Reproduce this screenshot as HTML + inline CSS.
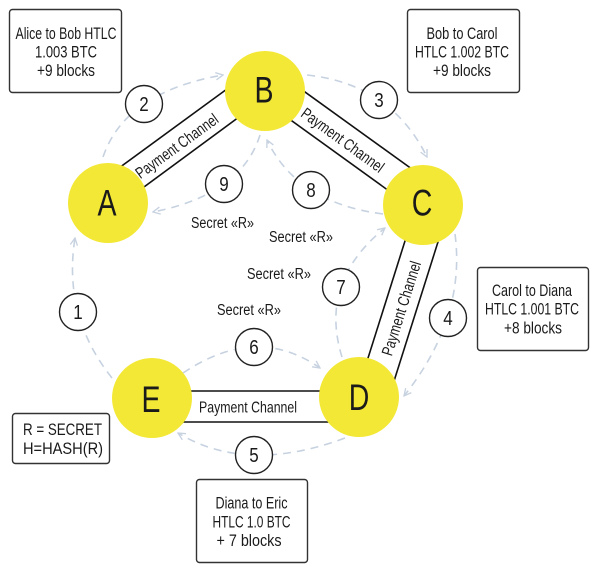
<!DOCTYPE html>
<html>
<head>
<meta charset="utf-8">
<style>
html,body{margin:0;padding:0;background:#fff;}
svg{display:block;}
text{font-family:"Liberation Sans",sans-serif;fill:#1a1a1a;}
</style>
</head>
<body>
<svg width="600" height="570" viewBox="0 0 600 570" xmlns="http://www.w3.org/2000/svg">
<defs>
<marker id="ah" viewBox="0 0 10 10" refX="9" refY="5" markerWidth="9" markerHeight="9" orient="auto" markerUnits="userSpaceOnUse">
<path d="M1,1 L9,5 L1,9" fill="none" stroke="#c7d2e0" stroke-width="1.5"/>
</marker>
</defs>
<rect width="600" height="570" fill="#fff"/>

<!-- dashed arcs -->
<g fill="none" stroke="#c7d2e0" stroke-width="1.6" stroke-dasharray="8 6" marker-end="url(#ah)">
<path d="M103,157 Q125,92 223,75"/>
<path d="M307,75 Q391,84 427,157"/>
<path d="M455,234 Q466,318 404,396"/>
<path d="M345,438 Q246.5,474.5 178,433"/>
<path d="M112,378 Q62.5,316 75,238"/>
<path d="M183,373 Q256.5,323.5 320,368"/>
<path d="M342,357 Q318.5,281.5 385,228"/>
<path d="M383,214 Q297,203 267,140"/>
<path d="M260,135 Q241.5,194.5 153,212"/>
</g>

<!-- payment channel lines -->
<g stroke="#111" stroke-width="1.6">
<line x1="110" y1="174.5" x2="240" y2="79.5"/>
<line x1="120" y1="204.7" x2="250" y2="108.9"/>
<line x1="290" y1="81.2" x2="420" y2="174.9"/>
<line x1="280" y1="112.3" x2="410" y2="206.1"/>
<line x1="413.2" y1="215" x2="359.5" y2="385"/>
<line x1="446.5" y1="215" x2="391.2" y2="390"/>
<line x1="160" y1="391" x2="350" y2="391"/>
<line x1="160" y1="422" x2="350" y2="422"/>
</g>

<!-- channel labels -->
<text transform="translate(180,150.5) rotate(-36)" font-size="16" text-anchor="middle" textLength="98" lengthAdjust="spacingAndGlyphs">Payment Channel</text>
<text transform="translate(339.5,144.5) rotate(36)" font-size="16" text-anchor="middle" textLength="98" lengthAdjust="spacingAndGlyphs">Payment Channel</text>
<text transform="translate(406.5,310) rotate(-72.5)" font-size="16" text-anchor="middle" textLength="98" lengthAdjust="spacingAndGlyphs">Payment Channel</text>
<text x="199" y="412.5" font-size="16" textLength="98" lengthAdjust="spacingAndGlyphs">Payment Channel</text>

<!-- nodes -->
<g fill="#f3e835">
<circle cx="108" cy="203" r="40"/>
<circle cx="265" cy="91" r="40"/>
<circle cx="423" cy="205" r="40"/>
<circle cx="359" cy="397" r="40"/>
<circle cx="152" cy="398" r="40"/>
</g>
<g font-size="37.5" text-anchor="middle">
<text transform="translate(107,215.5) scale(0.76,1)">A</text>
<text transform="translate(264,102.5) scale(0.76,1)">B</text>
<text transform="translate(422,215.5) scale(0.76,1)">C</text>
<text transform="translate(359,410) scale(0.76,1)">D</text>
<text transform="translate(151,412) scale(0.76,1)">E</text>
</g>

<!-- number circles -->
<g fill="#fff" stroke="#222" stroke-width="1.4">
<circle cx="144" cy="104" r="18.5"/>
<circle cx="379" cy="100" r="18.5"/>
<circle cx="448" cy="318" r="18.5"/>
<circle cx="254" cy="455" r="18.5"/>
<circle cx="254" cy="347" r="18.5"/>
<circle cx="78" cy="312" r="18.5"/>
<circle cx="341" cy="287" r="18.5"/>
<circle cx="311" cy="190" r="18.5"/>
<circle cx="224" cy="184" r="18.5"/>
</g>
<g font-size="20" text-anchor="middle">
<text transform="translate(144,111) scale(0.85,1)">2</text>
<text transform="translate(379,107) scale(0.85,1)">3</text>
<text transform="translate(448,325) scale(0.85,1)">4</text>
<text transform="translate(254,462) scale(0.85,1)">5</text>
<text transform="translate(254,354) scale(0.85,1)">6</text>
<text transform="translate(78,319) scale(0.85,1)">1</text>
<text transform="translate(341,294) scale(0.85,1)">7</text>
<text transform="translate(311,197) scale(0.85,1)">8</text>
<text transform="translate(224,191) scale(0.85,1)">9</text>
</g>

<!-- secret labels -->
<g font-size="15.5">
<text x="191" y="228" textLength="63" lengthAdjust="spacingAndGlyphs">Secret «R»</text>
<text x="269" y="242" textLength="64" lengthAdjust="spacingAndGlyphs">Secret «R»</text>
<text x="247" y="279" textLength="64" lengthAdjust="spacingAndGlyphs">Secret «R»</text>
<text x="217" y="315" textLength="64" lengthAdjust="spacingAndGlyphs">Secret «R»</text>
</g>

<!-- boxes -->
<g fill="#fff" stroke="#333" stroke-width="1.4">
<rect x="9.5" y="9.5" width="112" height="83" rx="3"/>
<rect x="407.5" y="9.5" width="112" height="83" rx="3"/>
<rect x="477.5" y="267.5" width="111" height="83" rx="3"/>
<rect x="196.5" y="479.5" width="111" height="83" rx="3"/>
<rect x="12.5" y="413.5" width="97" height="50" rx="3"/>
</g>
<g font-size="16.3" text-anchor="middle">
<text x="66" y="39" textLength="101" lengthAdjust="spacingAndGlyphs">Alice to Bob HTLC</text>
<text x="66" y="57.5" textLength="62" lengthAdjust="spacingAndGlyphs">1.003 BTC</text>
<text x="66" y="76" textLength="58" lengthAdjust="spacingAndGlyphs">+9 blocks</text>

<text x="462" y="39" textLength="71" lengthAdjust="spacingAndGlyphs">Bob to Carol</text>
<text x="462" y="57.5" textLength="94" lengthAdjust="spacingAndGlyphs">HTLC 1.002 BTC</text>
<text x="462" y="76" textLength="58" lengthAdjust="spacingAndGlyphs">+9 blocks</text>

<text x="532" y="296" textLength="80" lengthAdjust="spacingAndGlyphs">Carol to Diana</text>
<text x="532" y="314.5" textLength="94" lengthAdjust="spacingAndGlyphs">HTLC 1.001 BTC</text>
<text x="533" y="333.5" textLength="58" lengthAdjust="spacingAndGlyphs">+8 blocks</text>

<text x="251.5" y="508.5" textLength="72" lengthAdjust="spacingAndGlyphs">Diana to Eric</text>
<text x="251.5" y="527.5" textLength="78" lengthAdjust="spacingAndGlyphs">HTLC 1.0 BTC</text>
<text x="249" y="546" textLength="65" lengthAdjust="spacingAndGlyphs">+ 7 blocks</text>
</g>
<g font-size="16.3">
<text x="23" y="435" textLength="79" lengthAdjust="spacingAndGlyphs">R = SECRET</text>
<text x="23" y="454" textLength="80" lengthAdjust="spacingAndGlyphs">H=HASH(R)</text>
</g>
</svg>
</body>
</html>
